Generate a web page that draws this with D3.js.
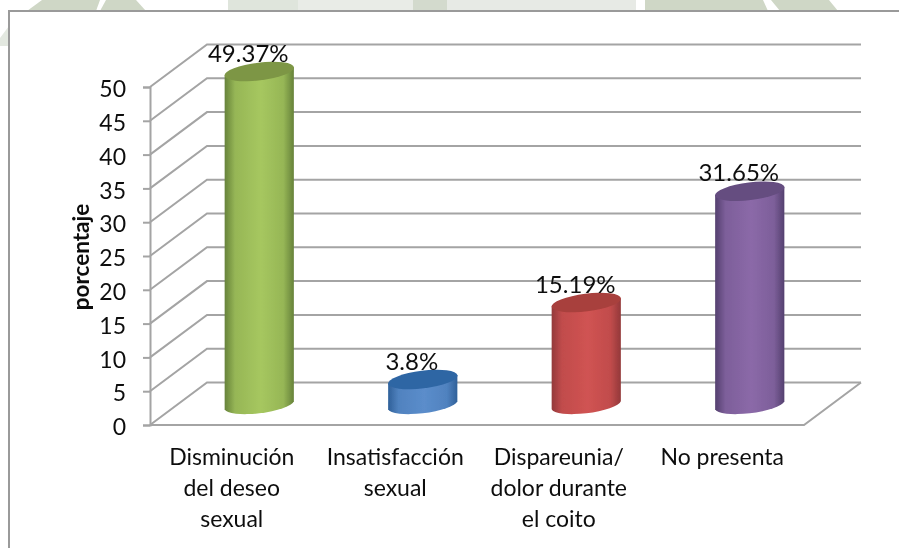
<!DOCTYPE html>
<html><head><meta charset="utf-8">
<script src="https://cdn.jsdelivr.net/npm/d3@7"></script>
<style>html,body{margin:0;padding:0;background:#fff}svg{display:block}</style>
</head><body><svg id="c" width="899" height="548"></svg>
<script>
const categories = [["Disminución","del deseo","sexual"],["Insatisfacción","sexual"],["Dispareunia/","dolor durante","el coito"],["No presenta"]];
const values = [49.37, 3.8, 15.19, 31.65];
const valueLabels = ["49.37%","3.8%","15.19%","31.65%"];
const yTicks = [0,5,10,15,20,25,30,35,40,45,50];
const yTitle = "porcentaje";
const sideColors = [["#66823a","#a6c75f"],["#2f6099","#5b8dcb"],["#93383a","#d05352"],["#54406f","#8b69a8"]];
const topColors = ["#7d9645","#2f66a4","#a8403d","#654d80"];
const watermark = [
  {c:"#cfd7c6",p:[[27,11],[42,0],[100,0],[96,11]]},
  {c:"#cfd7c6",p:[[106,0],[136,0],[146,11],[100,11]]},
  {c:"#dfe5dc",p:[[228,0],[298,0],[298,11],[228,11]]},
  {c:"#e9ece7",p:[[298,0],[413,0],[413,11],[298,11]]},
  {c:"#d3dacd",p:[[413,0],[447,0],[447,11],[413,11]]},
  {c:"#e7eae5",p:[[447,0],[636,0],[636,11],[447,11]]},
  {c:"#cfd7c6",p:[[645,0],[763,0],[768,11],[645,11]]},
  {c:"#cfd7c6",p:[[771,0],[829,0],[838,11],[780,11]]},
  {c:"#e3e8e0",p:[[0,38],[9,26],[9,46],[0,46]]}
];

const svg = d3.select("#c");
const defs = svg.append("defs");
defs.append("filter").attr("id","soft").append("feGaussianBlur").attr("stdDeviation",0.45);
sideColors.forEach((c,i)=>{
  const g = defs.append("linearGradient").attr("id","g"+i);
  g.append("stop").attr("offset","0%").attr("stop-color",c[0]);
  g.append("stop").attr("offset","15%").attr("stop-color",d3.interpolateRgb(c[0],c[1])(0.75));
  g.append("stop").attr("offset","52%").attr("stop-color",c[1]);
  g.append("stop").attr("offset","85%").attr("stop-color",d3.interpolateRgb(c[0],c[1])(0.75));
  g.append("stop").attr("offset","100%").attr("stop-color",c[0]);
});

const root = svg.append("g").attr("filter","url(#soft)");
const fontFam = "Lato, 'Open Sans', sans-serif";
const x = d3.scaleBand().domain(d3.range(categories.length)).range([150,804]);
const y = d3.scaleLinear().domain([0,50]).range([425,87]);
const depthX = 57, depthY = -42.5;
const grid = "#a4a4a4";

root.selectAll("polygon.wm").data(watermark).join("polygon").attr("class","wm")
  .attr("points",d=>d.p.map(q=>q.join(",")).join(" ")).attr("fill",d=>d.c);
root.append("path").attr("d","M9,548V11H899").attr("fill","none").attr("stroke","#9a9a9a").attr("stroke-width",2);

const line = d3.line();
root.selectAll("path.grid").data(yTicks).join("path").attr("class","grid")
  .attr("fill","none").attr("stroke",grid).attr("stroke-width",2)
  .attr("d",t=>line([[150,y(t)],[150+depthX,y(t)+depthY],[x.range()[1]+depthX,y(t)+depthY]]));
root.append("path").attr("fill","none").attr("stroke",grid).attr("stroke-width",2)
  .attr("d",line([[150,y(0)],[x.range()[1],y(0)],[x.range()[1]+depthX,y(0)+depthY]]));

const axis = root.append("g").attr("transform","translate(150,0)")
  .call(d3.axisLeft(y).tickValues(yTicks).tickSize(7).tickPadding(17).tickFormat(d3.format("d")));
axis.selectAll("path,line").attr("stroke",grid).attr("stroke-width",2);
axis.selectAll("text").attr("font-family",fontFam).attr("font-size",23).attr("fill","#111").attr("dy","0.42em");

const rx=35, ry=8.8, tiltDeg=-7, hx=34.6, hy=4;
const cx = i => x(i)+x.bandwidth()/2+depthX/2-1;
const cyOffset = depthY/2+1.5;
const bars = root.selectAll("g.bar").data(values).join("g").attr("class","bar");
bars.append("path").attr("fill",(d,i)=>`url(#g${i})`).attr("d",(d,i)=>{
  const c=cx(i), t=y(d)+cyOffset, b=y(0)+cyOffset;
  return `M${c-hx},${t+hy}L${c+hx},${t-hy}L${c+hx},${b-hy}A${rx},${ry} ${tiltDeg} 0 1 ${c-hx},${b+hy}Z`;
});
bars.append("ellipse").attr("fill",(d,i)=>topColors[i])
  .attr("rx",rx).attr("ry",ry)
  .attr("transform",(d,i)=>`translate(${cx(i)},${y(d)+cyOffset}) rotate(${tiltDeg})`);

root.selectAll("text.val").data(values).join("text").attr("class","val")
  .attr("x",(d,i)=>cx(i)-11).attr("y",d=>y(d)+cyOffset-10)
  .attr("text-anchor","middle").attr("font-family",fontFam).attr("font-size",24).attr("fill","#111")
  .text((d,i)=>valueLabels[i]);

categories.forEach((lines,i)=>{
  const t = root.append("text").attr("text-anchor","middle").attr("font-family",fontFam)
    .attr("font-size",23).attr("fill","#111");
  lines.forEach((s,j)=>t.append("tspan").attr("x",x(i)+x.bandwidth()/2).attr("y",464.5+j*31).text(s));
});

root.append("text").attr("transform","translate(89,257) rotate(-90)").attr("text-anchor","middle")
  .attr("font-family",fontFam).attr("font-weight",700).attr("font-size",22.5).attr("fill","#111").text(yTitle);
</script></body></html>
